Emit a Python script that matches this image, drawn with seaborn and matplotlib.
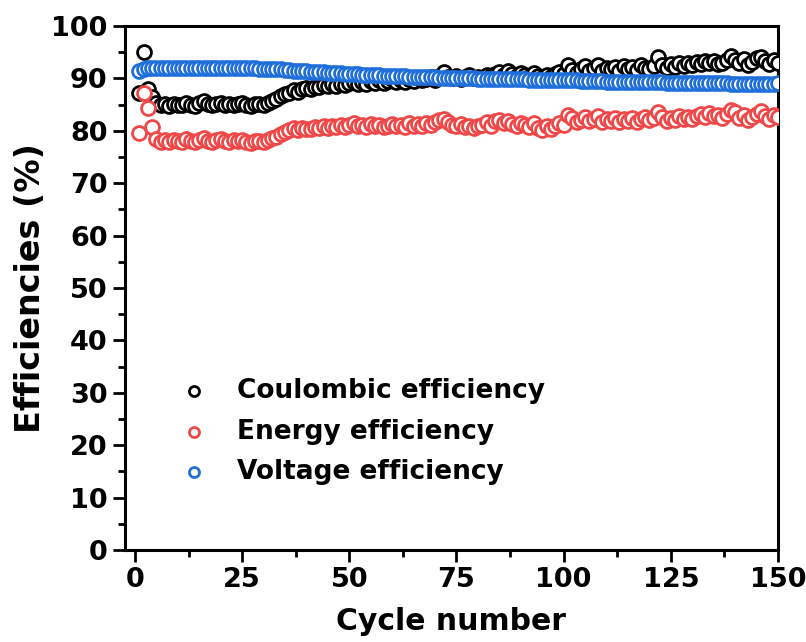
import numpy as np
import pandas as pd
import matplotlib
matplotlib.use("Agg")
import matplotlib.pyplot as plt
from matplotlib.ticker import MultipleLocator
import seaborn as sns

cycles = list(range(1, 151))

coulombic = [
    87.2, 95.0, 88.0, 86.5, 85.3, 84.9, 85.1, 84.8, 85.2, 85.0,
    84.9, 85.3, 85.0, 84.8, 85.4, 85.6, 85.2, 84.9, 85.1, 85.3,
    85.0, 85.2, 84.9, 85.1, 85.3, 85.0, 84.8, 85.2, 85.1, 84.9,
    85.3, 85.6, 86.0, 86.6, 87.0, 87.3, 87.8, 87.5, 88.0, 88.2,
    88.0, 88.4, 88.3, 88.7, 88.5, 88.9, 88.6, 89.0, 88.8, 89.1,
    89.3, 88.9, 89.4, 89.0, 89.5, 89.2, 89.6, 89.1, 89.5, 89.8,
    89.4, 89.7, 89.3, 89.9, 89.5, 90.0, 89.6, 89.8, 90.2, 89.7,
    90.5, 91.2, 90.3, 90.0, 90.4, 89.8, 90.2, 90.6, 90.0, 90.3,
    90.1, 90.7, 90.4, 90.9, 91.2, 90.6, 91.4, 90.8, 90.5, 91.0,
    90.6, 90.2, 91.1, 90.4, 90.0, 90.7, 90.3, 90.9, 91.3, 90.8,
    92.5, 91.6, 91.0, 91.8, 92.3, 91.5, 91.9, 92.6, 91.4, 92.0,
    91.7, 92.2, 91.5, 92.4, 91.8, 92.1, 91.6, 92.5, 92.0, 91.7,
    92.3, 94.0, 92.5, 91.9, 92.7, 92.2, 92.9, 92.4, 93.0, 92.6,
    93.2, 92.8, 93.4, 92.9, 93.3, 92.7, 93.0, 93.5, 94.2, 93.6,
    92.9, 93.7, 92.5, 93.2, 93.8, 94.0, 93.3, 92.8, 93.5, 92.9,
]

energy = [
    79.6, 87.2, 84.3, 80.7, 78.5, 77.8, 78.2, 77.9, 78.3, 78.0,
    77.8, 78.4, 78.1, 77.9, 78.3, 78.6, 78.0, 77.8, 78.2, 78.4,
    78.1, 77.9, 78.3, 78.0, 78.2, 77.8, 77.6, 78.1, 78.0, 77.9,
    78.2, 78.6, 78.9, 79.4, 79.8, 80.1, 80.5, 80.2, 80.6, 80.4,
    80.3, 80.7, 80.5, 80.9, 80.6, 81.0, 80.7, 81.1, 80.8, 81.2,
    81.4, 80.9, 81.1, 80.7, 81.3, 80.9, 81.2, 80.8, 81.0, 81.3,
    80.9, 81.2, 80.8, 81.4, 81.0, 81.3, 80.9, 81.5, 81.1, 81.6,
    82.0, 82.3, 81.6, 81.2, 80.9, 81.3, 80.7, 81.0, 80.6, 80.9,
    81.2, 81.6, 81.0, 81.8, 82.0, 81.4, 81.9, 81.3, 81.0, 81.5,
    81.1, 80.8, 81.4, 80.6, 80.2, 80.9, 80.4, 81.0, 81.5, 81.2,
    83.0, 82.4, 81.6, 82.1, 82.6, 81.8, 82.3, 82.9, 81.7, 82.2,
    81.9, 82.4, 81.6, 82.2, 81.8, 82.5, 81.7, 82.3, 82.6, 82.0,
    82.4, 83.6, 82.7, 81.8, 82.5, 82.0, 82.8, 82.3, 82.6, 82.2,
    82.8, 83.2, 82.6, 83.4, 82.9, 83.1, 82.5, 83.3, 84.0, 83.5,
    82.4, 83.0, 82.0, 82.7, 83.2, 83.8, 82.9, 82.3, 83.0, 82.6,
]

voltage = [
    91.5, 91.8, 91.9, 91.9, 92.0, 91.9, 92.0, 91.9, 92.0, 91.9,
    92.0, 91.9, 92.0, 91.9, 92.0, 91.9, 92.0, 91.9, 92.0, 91.9,
    92.0, 91.9, 92.0, 91.9, 92.0, 91.9, 91.9, 91.9, 91.8, 91.8,
    91.8, 91.8, 91.7, 91.7, 91.6, 91.6, 91.5, 91.5, 91.4, 91.4,
    91.3, 91.3, 91.2, 91.2, 91.1, 91.1, 91.0, 91.0, 90.9, 90.9,
    90.8, 90.8, 90.7, 90.7, 90.6, 90.6, 90.6, 90.5, 90.5, 90.5,
    90.4, 90.4, 90.4, 90.3, 90.3, 90.3, 90.2, 90.2, 90.2, 90.2,
    90.1, 90.1, 90.1, 90.1, 90.0, 90.0, 90.0, 90.0, 90.0, 89.9,
    89.9, 89.9, 89.9, 89.9, 89.9, 89.8, 89.8, 89.8, 89.8, 89.8,
    89.8, 89.7, 89.7, 89.7, 89.7, 89.7, 89.7, 89.6, 89.6, 89.6,
    89.6, 89.6, 89.6, 89.5, 89.5, 89.5, 89.5, 89.5, 89.5, 89.4,
    89.4, 89.4, 89.4, 89.4, 89.4, 89.4, 89.3, 89.3, 89.3, 89.3,
    89.3, 89.3, 89.3, 89.2, 89.2, 89.2, 89.2, 89.2, 89.2, 89.2,
    89.1, 89.1, 89.1, 89.1, 89.1, 89.1, 89.1, 89.1, 89.0, 89.0,
    89.0, 89.0, 89.0, 89.0, 89.0, 89.0, 89.0, 89.0, 89.0, 89.1,
]

series_names = ["Coulombic efficiency", "Energy efficiency", "Voltage efficiency"]
series_values = [coulombic, energy, voltage]
series_colors = ["#000000", "#F04848", "#1F6FDB"]

x_ticks = [0, 25, 50, 75, 100, 125, 150]
y_ticks = [0, 10, 20, 30, 40, 50, 60, 70, 80, 90, 100]

sns.set_style("ticks")
plt.rcParams["font.family"] = ["DejaVu Sans"]
plt.rcParams["font.weight"] = "bold"
plt.rcParams["text.color"] = "black"
plt.rcParams["axes.labelcolor"] = "black"
plt.rcParams["xtick.color"] = "black"
plt.rcParams["ytick.color"] = "black"

fig = plt.figure(figsize=(8.06, 6.42), dpi=100)
ax = fig.add_axes([125 / 806, 92 / 642, 653 / 806, 524 / 642])

for name, vals, col in zip(series_names, series_values, series_colors):
    df = pd.DataFrame({"Cycle": cycles, "Eff": vals})
    sns.scatterplot(data=df, x="Cycle", y="Eff", ax=ax, s=100,
                    facecolor="white", edgecolor=col, linewidth=2.0,
                    marker="o", label=name, zorder=3)

ax.set_xlim(-2.33, 150)
ax.set_ylim(0, 100)
ax.set_xticks(x_ticks)
ax.set_yticks(y_ticks)
ax.xaxis.set_minor_locator(MultipleLocator(12.5))
ax.yaxis.set_minor_locator(MultipleLocator(5))

for sp in ax.spines.values():
    sp.set_visible(True)
    sp.set_linewidth(2.2)
    sp.set_color("black")

ax.tick_params(axis="both", which="major", direction="out", length=8.5,
               width=2.0, labelsize=19.5, pad=4, colors="black")
ax.tick_params(axis="both", which="minor", direction="out", length=5,
               width=2.0)
ax.tick_params(top=False, right=False, which="both")
for lbl in ax.get_xticklabels() + ax.get_yticklabels():
    lbl.set_fontweight("bold")
    lbl.set_color("black")

ax.set_xlabel("Cycle number", fontsize=21.5, fontweight="bold", labelpad=10,
              color="black")
ax.set_ylabel("Efficiencies (%)", fontsize=24, fontweight="bold", labelpad=3,
              color="black")

leg = ax.legend(loc="upper left", bbox_to_anchor=(0.086, 0.328),
                frameon=False, fontsize=19, markerscale=0.72,
                handlelength=1.0, handletextpad=1.13, labelspacing=0.55,
                borderpad=0, borderaxespad=0)
for t in leg.get_texts():
    t.set_fontweight("bold")
    t.set_color("black")

fig.savefig("out.png", dpi=100)
